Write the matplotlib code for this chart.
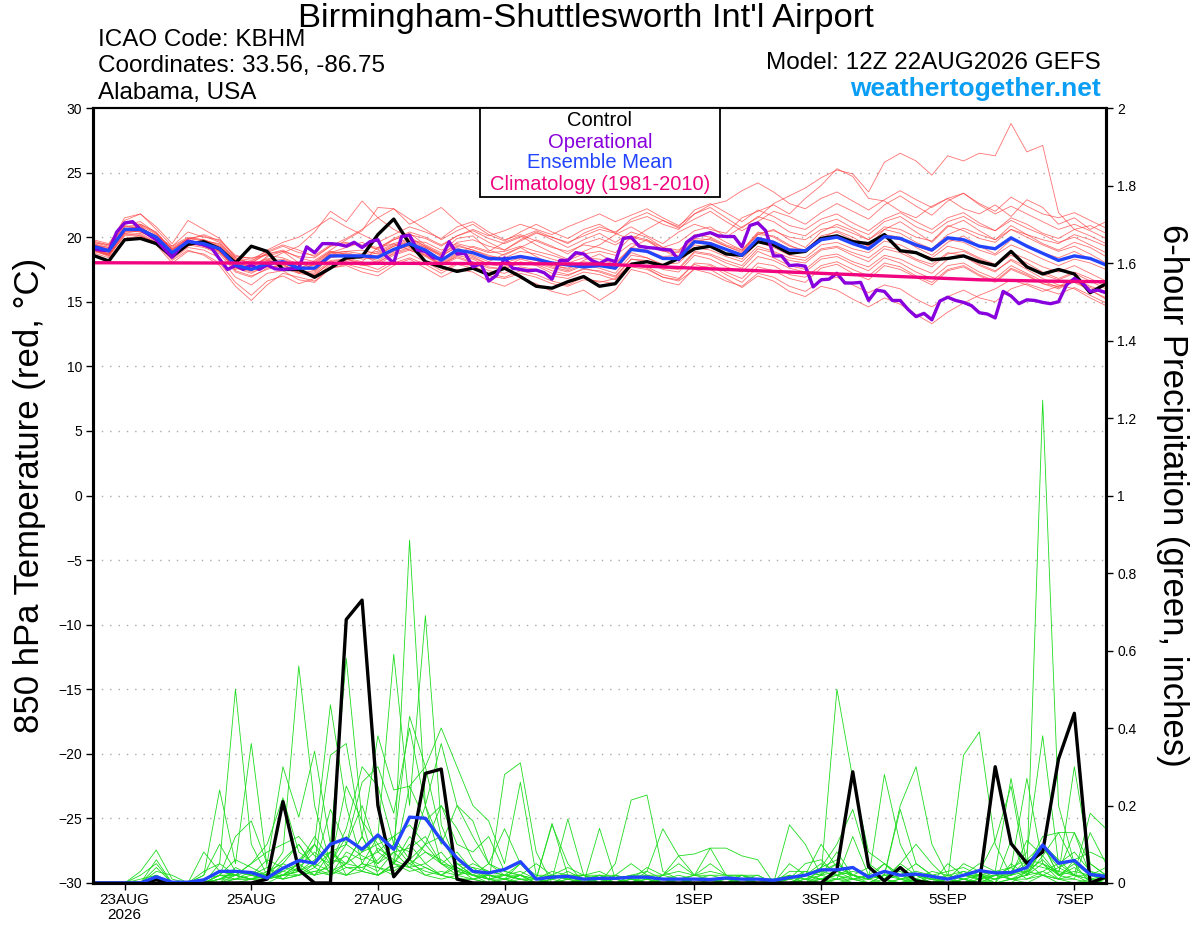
import matplotlib
matplotlib.use("Agg")
from matplotlib import pyplot as plt
from matplotlib.patches import Rectangle
import numpy as np

plt.rcParams["font.family"] = ["Liberation Sans", "DejaVu Sans"]

STEP = 0.25      # 6-hourly GEFS output, in days after 12Z 22AUG
OPER_STEP = 0.125  # operational run is 3-hourly

# 850 hPa temperature (C)
control_t = [18.6, 18.15, 19.8, 19.9, 19.5, 18.5, 19.45, 19.65, 19.1, 18.0,
             19.3, 18.9, 17.5, 17.5, 16.9, 17.6, 18.4, 18.5, 20.2, 21.4,
             19.5, 18.1, 17.7, 17.35, 17.6, 17.1, 17.6, 16.95, 16.2, 16.05,
             16.55, 16.95, 16.2, 16.4, 17.9, 18.1, 17.8, 18.35, 19.1, 19.3,
             18.7, 18.6, 19.65, 19.4, 18.75, 18.9, 19.9, 20.1, 19.65, 19.5,
             20.2, 18.95, 18.8, 18.25, 18.35, 18.55, 18.1, 17.8, 18.9, 17.7,
             17.15, 17.5, 17.15, 15.7, 16.4]
mean_t = [19.3, 18.95, 20.6, 20.6, 20.0, 18.8, 19.65, 19.5, 19.1, 17.85,
          17.5, 17.95, 18.1, 17.6, 17.6, 18.55, 18.55, 18.55, 18.45, 19.05,
          19.5, 19.0, 18.2, 19.0, 18.8, 18.35, 18.3, 18.5, 18.3, 18.0,
          17.85, 17.7, 17.8, 17.6, 19.05, 18.9, 18.35, 18.35, 19.65, 19.5,
          19.05, 18.6, 19.9, 19.6, 19.0, 18.95, 19.8, 20.0, 19.5, 19.1,
          20.05, 19.9, 19.4, 19.0, 19.95, 19.8, 19.3, 19.1, 19.95, 19.3,
          18.75, 18.2, 18.55, 18.35, 17.85]
oper_t = [19.1, 19.0, 18.95, 20.4, 21.1, 21.2, 20.6, 20.2, 19.8, 19.1,
          18.45, 19.2, 19.7, 19.55, 19.4, 19.15, 18.3, 17.5, 17.8, 17.5,
          17.85, 17.5, 17.85, 17.55, 17.5, 17.55, 17.6, 19.25, 18.8, 19.5,
          19.5, 19.45, 19.3, 19.6, 19.2, 19.65, 19.8, 18.55, 18.0, 20.05,
          20.15, 19.0, 18.9, 18.4, 18.35, 19.65, 18.7, 18.75, 17.7, 17.95,
          16.6, 17.05, 18.4, 17.6, 17.5, 17.4, 17.45, 17.25, 16.75, 18.2,
          18.2, 18.8, 18.7, 18.2, 17.95, 18.3, 18.1, 19.9, 20.0, 19.3,
          19.2, 19.15, 19.05, 19.0, 18.25, 19.6, 20.05, 20.2, 20.35, 20.1,
          20.05, 20.05, 19.25, 20.9, 21.1, 20.5, 18.55, 18.55, 17.8, 17.85,
          17.75, 16.15, 16.7, 16.75, 17.2, 16.45, 16.45, 16.5, 15.1, 15.9,
          15.8, 15.1, 15.1, 14.4, 13.85, 14.1, 13.6, 15.05, 15.35, 15.1,
          14.95, 14.7, 14.15, 14.05, 13.75, 15.8, 15.45, 14.85, 15.15, 15.1,
          14.95, 14.85, 15.0, 16.3, 16.8, 16.45, 15.8, 15.9, 15.7]
clim_t = [18.02, 18.01, 18.0, 17.99, 17.98, 17.97, 17.96, 17.94, 17.92,
          17.7, 17.5, 17.3, 17.1, 16.9, 16.7, 16.6, 16.55]  # daily, 12Z

t01 = [19.5, 19.2, 21.0, 21.2, 20.3, 19.0, 19.9, 20.1, 19.6, 18.2, 17.6, 18.5, 18.9, 18.0, 17.6, 18.8,
       19.2, 19.6, 19.0, 19.8, 20.3, 19.4, 18.8, 19.9, 20.1, 19.0, 18.6, 19.2, 19.8, 19.3, 18.7, 19.5,
       19.9, 19.4, 20.1, 19.8, 19.2, 19.6, 20.5, 20.8, 20.0, 20.8, 21.5, 22.6, 23.2, 23.8, 24.6, 25.2,
       24.9, 23.5, 25.8, 26.5, 25.9, 24.8, 26.3, 25.9, 26.5, 26.3, 28.8, 26.6, 27.1, 21.9, 20.6, 20.9, 20.3]
t02 = [19.0, 18.7, 20.4, 20.9, 19.8, 18.4, 19.3, 19.7, 18.9, 17.5, 17.9, 18.3, 17.6, 17.2, 18.0, 18.9,
       18.4, 18.1, 19.2, 19.5, 19.0, 18.6, 17.9, 18.7, 19.3, 18.9, 19.6, 20.1, 19.4, 18.8, 18.3, 18.9,
       19.4, 20.2, 20.8, 20.1, 19.5, 20.4, 21.0, 20.6, 20.3, 21.5, 22.0, 22.5, 21.8, 23.0, 24.0, 25.3,
       24.7, 23.0, 22.8, 22.0, 21.5, 22.4, 23.0, 22.2, 21.8, 22.5, 21.6, 22.9, 22.3, 21.0, 21.5, 20.6, 21.2]
t03 = [19.6, 19.4, 21.5, 21.8, 20.6, 19.3, 20.4, 20.0, 19.8, 18.6, 18.3, 18.9, 19.4, 19.0, 18.5, 19.3,
       19.9, 20.6, 21.5, 22.2, 21.4, 20.6, 19.8, 20.5, 21.0, 20.2, 19.7, 20.4, 21.0, 20.4, 19.9, 20.6,
       21.0, 20.3, 19.8, 20.6, 21.3, 20.7, 21.4, 22.0, 21.2, 20.5, 21.2, 22.0, 21.6, 21.0, 21.9, 22.6,
       22.0, 21.4, 22.5, 23.2, 22.4, 21.7, 22.8, 23.4, 22.6, 22.0, 23.1, 22.4, 21.8, 21.5, 21.9, 21.3, 20.7]
t04 = [19.3, 19.0, 20.8, 20.7, 20.1, 19.1, 19.6, 19.3, 18.8, 17.8, 17.4, 18.2, 18.8, 19.3, 20.4, 22.0,
       21.2, 22.8, 21.5, 20.6, 20.0, 19.3, 18.6, 19.2, 18.6, 18.1, 18.7, 19.2, 18.5, 17.9, 17.5, 18.2,
       18.7, 18.0, 19.2, 19.8, 19.0, 18.4, 19.6, 19.9, 19.3, 18.8, 20.2, 20.6, 19.8, 19.2, 20.4, 21.0,
       20.5, 19.8, 20.6, 21.2, 20.4, 19.6, 20.8, 21.3, 20.5, 19.8, 20.9, 20.2, 19.5, 19.0, 19.6, 19.2, 18.5]
t05 = [19.1, 18.6, 20.3, 20.5, 19.7, 18.7, 19.5, 19.6, 19.2, 18.0, 17.7, 18.4, 18.0, 17.5, 18.2, 19.0,
       19.8, 20.5, 22.3, 22.2, 21.0, 21.6, 22.3, 21.2, 20.3, 19.6, 19.0, 19.8, 20.4, 19.8, 19.2, 19.8,
       20.3, 19.6, 20.4, 20.0, 19.2, 19.0, 20.0, 20.3, 19.6, 19.0, 20.2, 20.1, 19.4, 18.8, 19.9, 20.5,
       20.0, 19.3, 20.2, 20.0, 19.2, 18.6, 19.6, 20.1, 19.3, 18.7, 19.8, 19.4, 18.8, 18.4, 18.9, 18.3, 17.9]
t06 = [19.0, 18.5, 20.2, 20.3, 19.6, 18.3, 19.2, 19.0, 18.4, 16.9, 16.3, 17.2, 17.4, 16.7, 16.5, 17.6,
       17.8, 17.3, 17.0, 17.8, 18.3, 17.6, 16.9, 17.5, 17.3, 16.6, 16.2, 16.8, 16.4, 15.8, 15.5, 15.9,
       15.1, 15.9, 17.5, 17.2, 16.6, 16.3, 17.6, 17.8, 17.1, 16.5, 17.7, 17.4, 16.8, 16.5, 17.6, 17.9,
       17.2, 16.7, 17.8, 17.5, 16.9, 16.3, 17.4, 17.7, 17.0, 16.5, 17.5, 17.0, 16.4, 16.0, 16.6, 16.1, 15.6]
t07 = [19.4, 18.9, 20.5, 20.4, 19.9, 18.5, 19.4, 19.2, 18.7, 17.3, 16.9, 17.6, 17.9, 17.2, 17.0, 18.1,
       18.3, 17.9, 17.5, 18.2, 18.7, 18.1, 17.4, 18.0, 17.8, 17.2, 16.9, 17.4, 17.1, 16.6, 16.3, 16.9,
       16.5, 16.8, 18.0, 17.7, 17.1, 16.8, 17.9, 17.5, 16.8, 16.1, 17.0, 16.6, 15.8, 15.4, 16.2, 15.9,
       15.2, 14.6, 15.3, 14.8, 14.0, 13.3, 14.2, 14.9, 15.5, 16.0, 16.7, 16.3, 15.8, 16.2, 16.5, 15.9, 15.3]
t08 = [19.8, 19.5, 21.3, 21.8, 20.8, 19.5, 21.3, 20.6, 19.9, 18.4, 18.0, 18.7, 19.0, 18.4, 18.1, 18.9,
       18.7, 18.5, 18.2, 18.9, 19.4, 18.8, 18.3, 19.0, 18.5, 17.9, 17.7, 18.3, 18.0, 17.6, 17.3, 17.8,
       17.6, 17.2, 18.6, 18.4, 17.8, 17.6, 18.9, 18.7, 18.2, 17.8, 19.1, 18.8, 18.2, 18.0, 19.0, 19.2,
       18.6, 18.1, 19.1, 18.8, 18.2, 17.7, 18.7, 18.9, 18.3, 17.8, 18.8, 18.3, 17.7, 17.3, 17.8, 17.2, 16.6]
t09 = [18.8, 18.4, 19.9, 20.1, 19.4, 18.0, 18.9, 18.7, 18.0, 16.5, 15.5, 16.6, 17.0, 16.4, 16.8, 17.9,
       18.2, 18.6, 18.0, 18.8, 19.2, 18.6, 17.8, 18.6, 18.3, 17.7, 17.5, 18.1, 17.8, 17.2, 17.0, 17.6,
       17.3, 16.9, 18.3, 18.1, 17.5, 17.3, 18.6, 18.3, 17.7, 17.3, 18.5, 18.2, 17.6, 17.3, 18.3, 18.5,
       17.9, 17.4, 18.4, 18.0, 17.3, 16.8, 17.8, 18.0, 17.3, 16.8, 17.8, 17.2, 16.6, 16.1, 16.6, 15.9, 15.2]
t10 = [19.2, 18.7, 20.6, 20.8, 20.0, 18.9, 19.7, 19.4, 19.0, 17.6, 17.2, 17.8, 18.2, 17.7, 17.4, 18.4,
       18.6, 18.3, 18.4, 19.0, 19.3, 18.9, 18.0, 18.8, 18.4, 17.9, 18.0, 18.4, 18.2, 17.7, 17.4, 17.9,
       17.9, 17.5, 18.8, 18.4, 17.9, 18.0, 19.2, 19.0, 18.5, 18.1, 19.3, 18.9, 18.4, 18.2, 19.1, 19.3,
       18.8, 18.4, 19.3, 19.0, 18.3, 17.9, 18.8, 18.6, 17.9, 17.4, 18.2, 17.5, 16.8, 16.3, 16.0, 15.3, 14.7]
t11 = [19.4, 19.1, 20.7, 20.4, 19.9, 19.2, 19.9, 19.8, 19.4, 18.3, 18.0, 18.8, 19.3, 18.8, 18.6, 19.4,
       19.6, 19.3, 19.1, 19.9, 20.4, 20.0, 19.4, 20.1, 20.6, 20.1, 20.5, 21.0, 20.6, 20.2, 20.8, 21.3,
       21.8, 21.2, 21.7, 22.2, 21.5, 20.9, 21.8, 22.3, 21.5, 20.7, 21.6, 21.2, 20.4, 20.1, 21.0, 21.4,
       20.7, 20.2, 21.2, 21.6, 20.8, 20.3, 21.2, 21.6, 20.9, 20.5, 21.5, 21.0, 20.3, 19.9, 20.6, 20.1, 19.5]
t12 = [19.3, 18.9, 20.5, 20.6, 19.9, 18.7, 19.6, 19.5, 19.1, 17.9, 17.6, 18.1, 18.3, 17.8, 17.5, 18.6,
       18.8, 18.5, 18.8, 19.4, 19.8, 19.2, 18.5, 19.3, 19.0, 18.5, 18.4, 18.9, 18.7, 18.3, 18.0, 18.4,
       18.3, 17.9, 19.2, 19.0, 18.5, 18.6, 19.8, 19.6, 19.1, 18.7, 20.0, 19.7, 19.1, 19.0, 19.9, 20.0,
       19.5, 19.1, 20.0, 19.8, 19.3, 18.9, 19.8, 19.6, 19.0, 18.6, 19.4, 18.9, 18.3, 17.8, 18.3, 18.0, 17.5]
t13 = [19.6, 19.3, 20.9, 20.7, 20.1, 19.3, 20.0, 19.8, 19.3, 18.2, 18.1, 19.0, 19.6, 20.0, 20.7, 21.5,
       20.8, 20.2, 19.6, 20.2, 20.8, 20.4, 19.9, 20.8, 21.2, 20.4, 19.8, 20.2, 19.7, 19.2, 18.9, 19.4,
       19.2, 18.8, 20.0, 19.7, 19.0, 18.9, 20.2, 20.0, 19.4, 19.0, 20.4, 20.0, 19.3, 19.0, 20.1, 20.4,
       19.8, 19.3, 20.6, 20.3, 19.6, 19.1, 20.2, 20.7, 20.2, 19.8, 20.6, 20.0, 19.4, 18.9, 19.3, 18.7, 18.0]
t14 = [19.0, 18.6, 20.1, 20.2, 19.5, 18.2, 19.0, 18.6, 17.8, 16.2, 15.1, 16.3, 17.2, 16.9, 16.6, 17.6,
       17.9, 17.6, 17.3, 18.0, 18.4, 17.9, 17.2, 17.9, 17.6, 17.0, 16.8, 17.2, 16.9, 16.4, 16.2, 16.7,
       16.6, 16.4, 17.7, 17.5, 16.9, 16.7, 18.0, 17.9, 17.3, 16.8, 18.0, 17.8, 17.1, 16.9, 17.8, 18.1,
       17.5, 17.0, 18.0, 17.7, 17.0, 16.5, 17.5, 17.8, 17.1, 16.6, 17.6, 17.1, 16.4, 16.2, 16.8, 16.2, 15.8]
t15 = [19.7, 19.4, 21.1, 21.0, 20.4, 19.0, 19.8, 20.2, 19.7, 18.5, 18.4, 18.6, 18.4, 17.9, 17.8, 18.7,
       18.9, 19.0, 18.7, 19.3, 19.7, 19.6, 19.0, 19.5, 19.2, 18.8, 18.9, 19.3, 18.9, 18.6, 18.2, 18.7,
       18.9, 18.6, 19.5, 19.3, 18.9, 18.8, 19.9, 19.8, 19.3, 18.9, 20.3, 20.5, 20.0, 19.8, 20.6, 20.8,
       20.3, 19.8, 20.8, 20.6, 20.0, 19.7, 20.9, 20.5, 19.9, 19.6, 20.6, 20.2, 19.8, 19.5, 20.2, 19.8, 19.3]
t16 = [18.9, 18.6, 20.4, 20.5, 19.9, 18.6, 19.5, 19.3, 18.9, 17.7, 17.3, 17.7, 17.8, 17.3, 17.2, 18.2,
       18.3, 18.0, 18.1, 18.7, 19.1, 18.7, 17.9, 18.5, 18.1, 17.6, 17.6, 18.0, 17.9, 17.4, 17.1, 17.5,
       17.4, 17.0, 18.3, 18.2, 17.6, 17.5, 18.8, 18.6, 18.0, 17.6, 18.9, 18.4, 17.8, 17.5, 18.5, 18.7,
       18.1, 17.7, 18.6, 18.3, 17.7, 17.2, 18.3, 18.5, 17.8, 17.3, 18.3, 17.7, 17.1, 16.7, 17.2, 16.6, 16.0]
t17 = [19.2, 18.8, 20.6, 20.9, 20.2, 18.8, 19.7, 19.5, 19.0, 17.7, 17.4, 18.0, 18.1, 17.4, 17.3, 18.5,
       18.7, 18.4, 18.6, 19.3, 19.6, 19.2, 18.6, 19.6, 19.8, 19.3, 19.0, 19.7, 20.3, 20.0, 19.6, 20.1,
       20.6, 20.3, 21.4, 21.9, 21.3, 20.8, 22.1, 22.6, 21.9, 21.2, 22.1, 21.6, 20.9, 20.6, 21.4, 21.8,
       21.1, 20.5, 21.4, 21.9, 21.2, 20.6, 21.5, 21.9, 21.1, 20.5, 21.3, 20.7, 20.2, 19.6, 20.0, 19.4, 18.8]
t18 = [19.5, 19.0, 20.3, 20.1, 19.6, 18.9, 19.4, 19.6, 19.3, 18.1, 17.9, 18.2, 18.0, 17.5, 17.9, 18.8,
       18.9, 18.7, 18.9, 19.5, 19.9, 19.3, 18.7, 19.4, 19.0, 18.6, 18.3, 18.6, 18.2, 17.8, 17.6, 18.1,
       18.0, 17.7, 19.0, 18.9, 18.4, 18.2, 19.4, 19.2, 18.7, 18.3, 19.6, 19.2, 18.6, 18.4, 19.4, 19.6,
       19.1, 18.8, 19.7, 19.4, 18.8, 18.4, 19.3, 19.0, 18.4, 17.9, 18.6, 18.0, 17.3, 16.8, 17.3, 16.8, 16.2]
t19 = [19.1, 18.7, 20.5, 20.7, 19.8, 18.6, 19.7, 19.4, 18.9, 17.4, 17.0, 17.5, 17.9, 17.3, 17.1, 18.0,
       18.1, 17.8, 17.9, 18.6, 19.0, 18.5, 17.8, 18.4, 18.0, 17.4, 17.2, 17.7, 17.5, 17.0, 16.8, 17.3,
       17.1, 16.7, 17.9, 17.6, 16.9, 16.6, 17.5, 17.2, 16.6, 16.2, 17.2, 16.9, 16.2, 15.8, 16.6, 16.9,
       16.3, 15.7, 16.3, 16.0, 15.2, 14.6, 15.4, 15.9, 15.3, 15.0, 16.0, 16.4, 16.0, 15.6, 16.1, 15.5, 14.9]
t20 = [19.4, 19.2, 20.8, 21.0, 20.3, 19.1, 19.9, 19.7, 19.5, 18.4, 18.2, 18.7, 18.9, 18.5, 18.4, 19.3,
       19.5, 19.4, 19.2, 19.8, 20.2, 19.9, 19.3, 20.1, 20.5, 19.9, 19.5, 20.0, 20.5, 20.0, 19.5, 20.3,
       20.8, 20.4, 21.2, 21.6, 21.0, 20.6, 21.8, 22.5, 22.8, 23.6, 24.2, 23.5, 22.6, 22.2, 23.0, 23.5,
       22.8, 22.1, 22.9, 23.6, 22.9, 22.3, 23.0, 23.4, 22.5, 21.8, 22.4, 21.8, 21.2, 20.6, 21.0, 20.5, 19.9]

# 6-hour precipitation (inches)
control_p = [0, 0, 0, 0, 0.008, 0, 0, 0, 0, 0, 0, 0.01, 0.21,
             0.034, 0, 0, 0.68, 0.73, 0.2, 0.016, 0.064, 0.283, 0.294, 0.01, 0, 0,
             0, 0, 0, 0, 0, 0, 0, 0, 0, 0, 0, 0, 0,
             0, 0, 0, 0, 0, 0, 0, 0, 0.034, 0.287, 0.042, 0.005, 0.04,
             0.005, 0, 0, 0, 0, 0.30, 0.102, 0.051, 0.08, 0.32, 0.438, 0, 0.016]
mean_p = [0, 0, 0, 0, 0.016, 0.002, 0.002, 0.008, 0.03, 0.03, 0.027, 0.013, 0.038,
          0.058, 0.051, 0.1, 0.115, 0.087, 0.124, 0.087, 0.17, 0.167, 0.111, 0.064, 0.03, 0.026,
          0.035, 0.055, 0.01, 0.015, 0.017, 0.01, 0.012, 0.012, 0.015, 0.015, 0.01, 0.01, 0.01,
          0.009, 0.013, 0.01, 0.01, 0.007, 0.014, 0.02, 0.034, 0.034, 0.04, 0.015, 0.03, 0.02,
          0.023, 0.017, 0.01, 0.02, 0.032, 0.026, 0.027, 0.04, 0.098, 0.051, 0.058, 0.022, 0.017]

p01 = [0, 0, 0, 0.03, 0.085, 0.01, 0, 0, 0.05, 0.5, 0.1, 0.02, 0.08,
       0.56, 0.2, 0.05, 0.14, 0.3, 0.25, 0.1, 0.43, 0.3, 0.12, 0.05, 0.02, 0.01,
       0, 0.02, 0, 0, 0.01, 0, 0, 0.02, 0, 0, 0.01, 0, 0,
       0, 0, 0, 0, 0, 0, 0, 0.02, 0.5, 0.27, 0.08, 0.05, 0.02,
       0, 0.01, 0, 0, 0.02, 0, 0, 0.03, 1.246, 0.2, 0.05, 0, 0.01]
p02 = [0, 0, 0, 0, 0.06, 0, 0, 0.02, 0.24, 0.05, 0.36, 0.04, 0.02,
       0.05, 0.1, 0.46, 0.2, 0.05, 0.12, 0.59, 0.2, 0.69, 0.15, 0.05, 0.02, 0.0,
       0.28, 0.31, 0.08, 0, 0.02, 0, 0.01, 0, 0, 0.02, 0, 0, 0,
       0, 0.01, 0, 0, 0, 0.05, 0.02, 0.1, 0.04, 0.02, 0.01, 0.28, 0.1,
       0.02, 0, 0.01, 0, 0, 0, 0.11, 0.02, 0.05, 0.01, 0.02, 0.18, 0.14]
p03 = [0, 0, 0, 0.02, 0.05, 0, 0, 0, 0.02, 0.12, 0.16, 0.05, 0.3,
       0.17, 0.34, 0.1, 0.58, 0.16, 0.02, 0.05, 0.885, 0.2, 0.36, 0.2, 0.12, 0.05,
       0.14, 0.05, 0.01, 0.15, 0.05, 0, 0.02, 0.01, 0, 0.03, 0.01, 0, 0.01,
       0, 0, 0.02, 0, 0, 0, 0, 0.04, 0.1, 0.19, 0.05, 0.02, 0.2,
       0.3, 0.1, 0.02, 0.01, 0, 0.01, 0.03, 0.08, 0.38, 0.05, 0.02, 0.01, 0]
p04 = [0, 0, 0, 0, 0.04, 0, 0, 0.08, 0.03, 0.02, 0.05, 0.1, 0.22,
       0.08, 0.05, 0.33, 0.36, 0.12, 0.38, 0.24, 0.25, 0.3, 0.4, 0.3, 0.2, 0.16,
       0.05, 0.26, 0.02, 0.01, 0.165, 0.02, 0, 0, 0.01, 0, 0.02, 0.07, 0.02,
       0.01, 0, 0, 0, 0, 0, 0.02, 0.05, 0.03, 0.01, 0, 0.02, 0.19,
       0.05, 0.02, 0.01, 0.33, 0.39, 0.1, 0.02, 0.03, 0.1, 0.02, 0.3, 0.05, 0.02]
p05 = [0, 0, 0, 0, 0.03, 0.02, 0, 0, 0.01, 0.03, 0.02, 0.01, 0.05,
       0.1, 0.04, 0.19, 0.1, 0.26, 0.3, 0.18, 0.4, 0.2, 0.1, 0.2, 0.16, 0.05,
       0.02, 0.05, 0.01, 0.154, 0.02, 0, 0.141, 0.01, 0, 0, 0.02, 0.01, 0,
       0, 0, 0, 0, 0, 0.15, 0.1, 0.02, 0.05, 0.02, 0.04, 0.01, 0.05,
       0.1, 0.05, 0.01, 0.05, 0.03, 0.11, 0.25, 0.02, 0.07, 0.13, 0.05, 0.03, 0.01]
p06 = [0, 0, 0, 0.01, 0.02, 0, 0, 0, 0, 0.04, 0.02, 0.06, 0.04,
       0.03, 0.1, 0.05, 0.12, 0.08, 0.1, 0.05, 0.25, 0.16, 0.2, 0.1, 0.08, 0.12,
       0.03, 0.02, 0, 0.02, 0.01, 0.02, 0, 0.05, 0.214, 0.227, 0.03, 0.01, 0.02,
       0.09, 0.02, 0, 0.01, 0, 0, 0.01, 0.02, 0.01, 0.12, 0.02, 0.01, 0.02,
       0.02, 0.01, 0, 0.02, 0.05, 0.03, 0.27, 0.05, 0.02, 0.01, 0.06, 0.02, 0.01]
p07 = [0, 0, 0, 0, 0.01, 0, 0, 0, 0.02, 0.06, 0.04, 0.02, 0.02,
       0.05, 0.12, 0.06, 0.05, 0.12, 0.05, 0.1, 0.08, 0.2, 0.05, 0.03, 0.02, 0.02,
       0.01, 0.05, 0.02, 0.02, 0.04, 0.02, 0.02, 0, 0.02, 0.03, 0.14, 0.07, 0.075,
       0.09, 0.09, 0.07, 0.06, 0, 0.02, 0.01, 0.03, 0.05, 0.02, 0.01, 0.05, 0.02,
       0.01, 0, 0.05, 0.02, 0.01, 0.02, 0.04, 0.27, 0.05, 0.03, 0.13, 0.02, 0.01]
p08 = [0, 0, 0, 0, 0, 0, 0, 0.01, 0.03, 0.02, 0.01, 0.02, 0.06,
       0.1, 0.04, 0.08, 0.05, 0.08, 0.12, 0.05, 0.1, 0.05, 0.08, 0.03, 0.02, 0.05,
       0.03, 0.02, 0.05, 0.02, 0.01, 0.02, 0, 0.02, 0.01, 0.04, 0.02, 0.05, 0.02,
       0.05, 0.02, 0.01, 0.02, 0, 0.01, 0.05, 0.06, 0.02, 0.01, 0.01, 0.03, 0.02,
       0.05, 0.02, 0.01, 0.02, 0.02, 0.03, 0.02, 0.04, 0.12, 0.13, 0.13, 0.05, 0.02]
p09 = [0, 0, 0, 0, 0.02, 0, 0, 0, 0, 0.01, 0.01, 0, 0.02,
       0.03, 0.05, 0.1, 0.02, 0.05, 0.03, 0.08, 0.04, 0.1, 0.12, 0.04, 0.01, 0.02,
       0.01, 0, 0, 0.01, 0, 0, 0.01, 0, 0, 0, 0, 0.01, 0,
       0, 0, 0, 0.01, 0, 0.02, 0, 0.01, 0, 0, 0, 0, 0.01,
       0, 0, 0, 0.01, 0.02, 0, 0.01, 0.01, 0.02, 0, 0, 0, 0]
p10 = [0, 0, 0, 0, 0, 0, 0, 0, 0.01, 0.02, 0.05, 0.08, 0.1,
       0.12, 0.07, 0.05, 0.25, 0.16, 0.1, 0.12, 0.15, 0.1, 0.2, 0.14, 0.06, 0.02,
       0.02, 0.01, 0, 0, 0, 0.01, 0.02, 0.01, 0.02, 0.01, 0, 0, 0.01,
       0, 0.01, 0.02, 0.01, 0, 0, 0.02, 0.04, 0.06, 0.01, 0.02, 0.05, 0.01,
       0, 0.02, 0.03, 0.04, 0.02, 0.01, 0.02, 0.06, 0.05, 0.02, 0.04, 0.01, 0.01]
p11 = [0, 0, 0, 0, 0, 0, 0, 0.02, 0.1, 0.03, 0.02, 0.04, 0.01,
       0.02, 0.04, 0.02, 0.08, 0.06, 0.08, 0.05, 0.12, 0.08, 0.05, 0.02, 0.04, 0.01,
       0.01, 0.02, 0.01, 0.03, 0.02, 0.01, 0.02, 0.02, 0.05, 0.02, 0.01, 0.01, 0.02,
       0.03, 0.02, 0.02, 0.01, 0, 0.03, 0.03, 0.02, 0.08, 0.02, 0.01, 0.03, 0.01,
       0.02, 0.01, 0.02, 0.01, 0, 0.02, 0.01, 0.02, 0.09, 0.04, 0.06, 0.08, 0.06]
p12 = [0, 0, 0, 0, 0.01, 0, 0, 0, 0, 0.02, 0.01, 0.02, 0.04,
       0.06, 0.1, 0.02, 0.05, 0.12, 0.04, 0.02, 0.06, 0.04, 0.02, 0.01, 0.01, 0.02,
       0.01, 0.02, 0, 0.01, 0.02, 0.02, 0.01, 0, 0, 0.01, 0, 0.01, 0.01,
       0.02, 0.01, 0, 0, 0, 0.01, 0.02, 0.01, 0.03, 0.02, 0, 0.02, 0.03,
       0.01, 0, 0.02, 0.03, 0.01, 0, 0.05, 0.02, 0.1, 0.06, 0.02, 0.02, 0.04]
p13 = [0, 0, 0, 0, 0, 0, 0, 0.03, 0.05, 0.02, 0.01, 0.01, 0.03,
       0.05, 0.02, 0.08, 0.04, 0.04, 0.06, 0.1, 0.05, 0.08, 0.06, 0.03, 0.05, 0.03,
       0.02, 0.01, 0, 0.01, 0.03, 0.01, 0.01, 0.02, 0.01, 0, 0.01, 0.02, 0.01,
       0.01, 0, 0.01, 0.01, 0.01, 0.02, 0.01, 0.01, 0.02, 0.04, 0.02, 0.01, 0.05,
       0.02, 0.01, 0.01, 0.02, 0.01, 0.02, 0.02, 0.11, 0.07, 0.02, 0.01, 0.13, 0.05]
p14 = [0, 0, 0, 0, 0, 0, 0, 0, 0.02, 0.02, 0.03, 0.02, 0.01,
       0.02, 0.03, 0.04, 0.02, 0.03, 0.02, 0.05, 0.04, 0.02, 0.03, 0.02, 0.01, 0,
       0, 0.01, 0.01, 0, 0, 0, 0, 0.01, 0, 0.01, 0, 0, 0,
       0, 0, 0.01, 0, 0, 0, 0.02, 0.01, 0.01, 0.02, 0.01, 0, 0.01,
       0.01, 0, 0, 0.01, 0.02, 0.01, 0.02, 0.05, 0.04, 0.03, 0.02, 0.01, 0.02]
p15 = [0, 0, 0, 0, 0.01, 0, 0, 0, 0.01, 0.01, 0.02, 0.01, 0.02,
       0.03, 0.06, 0.08, 0.1, 0.07, 0.05, 0.08, 0.09, 0.12, 0.05, 0.04, 0.02, 0.01,
       0.02, 0.03, 0.01, 0, 0, 0.01, 0, 0, 0.01, 0, 0, 0.01, 0,
       0, 0, 0, 0, 0.01, 0.01, 0, 0, 0.01, 0.01, 0.02, 0.01, 0,
       0.01, 0.03, 0.02, 0.01, 0, 0.02, 0.04, 0.01, 0.03, 0.05, 0.08, 0.03, 0.02]
p16 = [0, 0, 0, 0, 0, 0, 0, 0, 0, 0.01, 0.03, 0.02, 0.01,
       0.04, 0.08, 0.04, 0.1, 0.2, 0.08, 0.12, 0.06, 0.1, 0.05, 0.08, 0.03, 0.02,
       0.01, 0, 0, 0, 0.01, 0, 0, 0, 0, 0, 0, 0, 0,
       0, 0, 0.01, 0, 0, 0, 0, 0.01, 0.02, 0, 0, 0.01, 0,
       0.02, 0, 0.01, 0, 0.01, 0.03, 0.01, 0, 0.02, 0.04, 0.02, 0, 0.01]
p17 = [0, 0, 0, 0, 0.01, 0, 0, 0, 0.02, 0.01, 0.01, 0.03, 0.05,
       0.03, 0.02, 0.05, 0.07, 0.03, 0.09, 0.06, 0.04, 0.05, 0.02, 0.05, 0.04, 0.03,
       0.02, 0.02, 0.01, 0.02, 0.02, 0.02, 0.03, 0.01, 0.02, 0.02, 0.02, 0.03, 0.02,
       0.02, 0.02, 0.02, 0.02, 0, 0.01, 0.02, 0.03, 0.02, 0.03, 0.02, 0.01, 0.02,
       0.03, 0.02, 0.01, 0.03, 0.02, 0.02, 0.03, 0.03, 0.06, 0.02, 0.05, 0.02, 0.02]
p18 = [0, 0, 0, 0, 0, 0, 0, 0, 0.01, 0.03, 0.02, 0.01, 0.02,
       0.02, 0.05, 0.03, 0.02, 0.05, 0.04, 0.03, 0.06, 0.02, 0.01, 0.02, 0.03, 0.01,
       0, 0, 0, 0, 0, 0.01, 0, 0, 0, 0, 0, 0, 0,
       0, 0, 0, 0, 0, 0, 0, 0, 0, 0.01, 0, 0, 0,
       0, 0, 0, 0.01, 0, 0, 0.01, 0.02, 0.03, 0.01, 0, 0.01, 0]
p19 = [0, 0, 0, 0, 0, 0, 0, 0, 0, 0, 0.01, 0.02, 0.03,
       0.02, 0.03, 0.02, 0.04, 0.03, 0.02, 0.05, 0.03, 0.04, 0.02, 0.01, 0.01, 0,
       0.01, 0, 0, 0, 0, 0, 0, 0, 0, 0, 0, 0, 0,
       0, 0, 0, 0, 0, 0, 0.01, 0, 0.01, 0, 0, 0, 0,
       0.01, 0, 0.01, 0, 0.01, 0.02, 0.01, 0.03, 0.02, 0.01, 0.01, 0, 0]
p20 = [0, 0, 0, 0, 0.01, 0, 0, 0.01, 0.02, 0.02, 0.01, 0.01, 0.02,
       0.04, 0.02, 0.03, 0.05, 0.04, 0.02, 0.04, 0.05, 0.03, 0.02, 0.04, 0.02, 0.01,
       0.02, 0.01, 0.01, 0.02, 0.01, 0.01, 0.02, 0, 0.01, 0.01, 0, 0, 0.01,
       0.01, 0, 0.02, 0, 0, 0.01, 0.03, 0.02, 0.03, 0.02, 0.01, 0.02, 0.01,
       0.02, 0.01, 0.01, 0.02, 0.02, 0.03, 0.04, 0.06, 0.1, 0.02, 0.03, 0.02, 0.01]

members_t = [t01, t02, t03, t04, t05, t06, t07, t08, t09, t10,
             t11, t12, t13, t14, t15, t16, t17, t18, t19, t20]
members_p = [p01, p02, p03, p04, p05, p06, p07, p08, p09, p10,
             p11, p12, p13, p14, p15, p16, p17, p18, p19, p20]

tick_days = [0.5, 2.5, 4.5, 6.5, 9.5, 11.5, 13.5, 15.5]
tick_labels = ["23AUG\n2026", "25AUG", "27AUG", "29AUG", "1SEP", "3SEP", "5SEP", "7SEP"]

RED = "#FF3B3B"
GREEN = "#1FDC1F"
BLUE = "#2244FF"
PURPLE = "#8800DD"
PINK = "#F0047F"

fig = plt.figure(figsize=(12, 9.27), dpi=100)
ax = fig.add_axes([93 / 1200, 1 - 883 / 927, 1013 / 1200, 775 / 927])
ax2 = ax.twinx()

x6 = np.arange(len(control_t)) * STEP

# precipitation (right axis)
for p in members_p:
    ax2.plot(x6, p, color=GREEN, lw=0.6)
ax2.plot(x6, control_p, color="black", lw=2.4)
ax2.plot(x6, mean_p, color=BLUE, lw=2.4)

# temperature (left axis)
for t in members_t:
    ax.plot(x6, t, color=RED, lw=0.6, alpha=0.72)
ax.plot(x6, control_t, color="black", lw=2.4, zorder=5)
ax.plot(np.arange(len(oper_t)) * OPER_STEP, oper_t, color=PURPLE, lw=2.4, zorder=6)
ax.plot(x6, mean_t, color=BLUE, lw=2.4, zorder=7)
ax.plot(np.arange(len(clim_t)), clim_t, color=PINK, lw=2.4, zorder=8)

ax.set_xlim(0, 16)
ax.set_ylim(-30, 30)
ax2.set_ylim(0, 2)
ax.set_yticks(np.arange(-30, 31, 5))
ax2.set_yticks(np.arange(0, 2.01, 0.2))
ax2.set_yticklabels([f"{v:g}" for v in np.arange(0, 2.01, 0.2).round(1)])
ax.set_xticks(tick_days)
ax.set_xticklabels(tick_labels, fontsize=11, linespacing=1.1)

for gy in range(-25, 30, 5):
    ax.axhline(gy, color="#A8A8A8", lw=1.0, ls=(0, (1, 5)), zorder=0)

ax.tick_params(axis="y", labelsize=10, length=5, width=1, pad=3)
ax.tick_params(axis="x", length=5, width=1, pad=2)
ax2.tick_params(axis="y", labelsize=10, length=5, width=1, pad=3)
for a in (ax, ax2):
    a.spines["left"].set_linewidth(2.2)
    a.spines["right"].set_linewidth(2.2)
    a.spines["bottom"].set_linewidth(2.2)
    a.spines["top"].set_linewidth(1.5)

# legend box
fig.patches.append(Rectangle((480 / 1200, 1 - 197 / 927), 240 / 1200, 89 / 927,
                             transform=fig.transFigure, facecolor="white",
                             edgecolor="black", lw=1.3, zorder=10))
legend_items = [("Control", "black", 121), ("Operational", PURPLE, 142),
                ("Ensemble Mean", BLUE, 163), ("Climatology (1981-2010)", PINK, 185)]
for text, color, ypx in legend_items:
    fig.text(0.5, 1 - ypx / 927, text, color=color, fontsize=14.5,
             ha="center", va="center", zorder=11)

# headers
fig.text(586 / 1200, 1 - 18 / 927, "Birmingham-Shuttlesworth Int'l Airport",
         fontsize=24.8, ha="center", va="center")
fig.text(98 / 1200, 1 - 40 / 927, "ICAO Code: KBHM", fontsize=17.5, ha="left", va="center")
fig.text(98 / 1200, 1 - 66 / 927, "Coordinates: 33.56, -86.75", fontsize=17.5, ha="left", va="center")
fig.text(98 / 1200, 1 - 93 / 927, "Alabama, USA", fontsize=17.5, ha="left", va="center")
fig.text(1101 / 1200, 1 - 63 / 927, "Model: 12Z 22AUG2026 GEFS", fontsize=17.5, ha="right", va="center")
fig.text(1101 / 1200, 1 - 89 / 927, "weathertogether.net", fontsize=19, fontweight="bold",
         color="#0A9EF5", ha="right", va="center")

fig.text(30 / 1200, 1 - 495 / 927, "850 hPa Temperature (red, °C)", fontsize=25,
         rotation=90, ha="center", va="center")
fig.text(1172 / 1200, 1 - 495 / 927, "6-hour Precipitation (green, inches)", fontsize=25,
         rotation=-90, ha="center", va="center")

fig.savefig("out.png", dpi=100, facecolor="white")
